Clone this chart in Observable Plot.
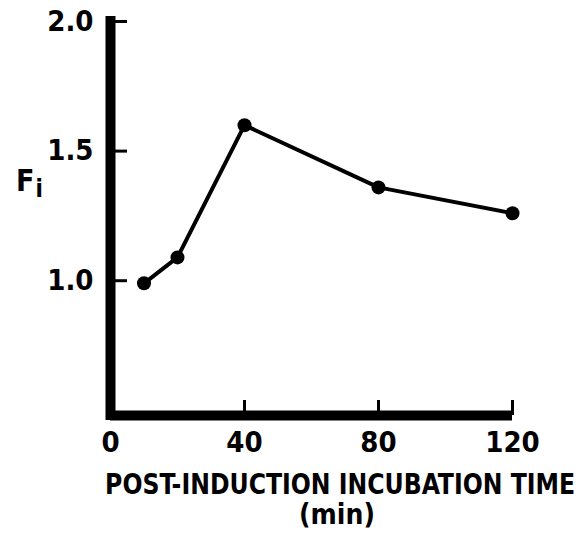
<!DOCTYPE html>
<html><head><meta charset="utf-8">
<script src="https://cdn.jsdelivr.net/npm/d3@7"></script>
<script src="https://cdn.jsdelivr.net/npm/@observablehq/plot@0.6"></script>
<style>
body{margin:0;background:#fff;}
#wrap{position:relative;width:585px;height:538px;background:#fff;overflow:hidden;}
.lbl{position:absolute;font-family:"Liberation Sans Narrow","DejaVu Sans Condensed","Arial Narrow",sans-serif;font-stretch:condensed;font-weight:bold;color:#000;white-space:nowrap;}
</style></head><body><div id="wrap"></div>
<script>
const times = [10, 20, 40, 80, 120];
const fi = [0.99, 1.09, 1.60, 1.36, 1.26];
const xTicks = [0, 40, 80, 120];
const yTicks = [1.0, 1.5, 2.0];
const xTitle = "POST-INDUCTION INCUBATION TIME";
const xUnit = "(min)";
const yTitle = "F", ySub = "i";

const data = times.map((t, i) => ({t, f: fi[i]}));
const font = '"Liberation Sans Narrow","DejaVu Sans Condensed","Arial Narrow",sans-serif';
const yMin = 0.48, yMax = 2.0;

const chart = Plot.plot({
  width: 585, height: 460,
  marginLeft: 110, marginRight: 73, marginTop: 21, marginBottom: 45,
  x: {domain: [0, 120]},
  y: {domain: [yMin, yMax]},
  style: {fontFamily: font, fontSize: "29px", fontWeight: "bold", background: "white", color: "black", fontStretch: "condensed"},
  marks: [
    Plot.axisX({ticks: xTicks, tickSize: -15, tickPadding: 31, strokeWidth: 3, label: null, tickFormat: d => String(d)}),
    Plot.axisY({ticks: yTicks, tickSize: -17, tickPadding: 34, strokeWidth: 3, label: null, tickFormat: d => d.toFixed(1)}),
    Plot.ruleX([0], {y1: yMin, y2: yMax, strokeWidth: 10, strokeLinecap: "square"}),
    Plot.ruleY([yMin], {x1: 0, x2: 120, strokeWidth: 10}),
    Plot.line(data, {x: "t", y: "f", strokeWidth: 4, stroke: "black"}),
    Plot.dot(data, {x: "t", y: "f", r: 7, fill: "black", stroke: "none"})
  ]
});
const wrap = document.getElementById("wrap");
wrap.appendChild(chart);

const yl = document.createElement("div");
yl.className = "lbl";
yl.style.left = "16px"; yl.style.top = "163px"; yl.style.fontSize = "30px";
yl.appendChild(document.createTextNode(yTitle));
const sub = document.createElement("sub");
sub.textContent = ySub;
sub.style.fontSize = "24px";
sub.style.verticalAlign = "-6px";
sub.style.marginLeft = "1px";
yl.appendChild(sub);
wrap.appendChild(yl);

function fitLine(text, top, centerX, targetWidth) {
  const el = document.createElement("div");
  el.className = "lbl";
  el.style.fontSize = "28px"; el.style.lineHeight = "30px";
  el.style.top = top + "px";
  el.textContent = text;
  wrap.appendChild(el);
  const w = el.getBoundingClientRect().width;
  const s = targetWidth ? Math.min(1.2, targetWidth / w) : 1;
  el.style.left = (centerX - w / 2) + "px";
  el.style.transformOrigin = "50% 50%";
  el.style.transform = `scaleX(${s})`;
}
fitLine(xTitle, 470, 340, 470);
fitLine(xUnit, 500, 337, 0);
</script></body></html>
